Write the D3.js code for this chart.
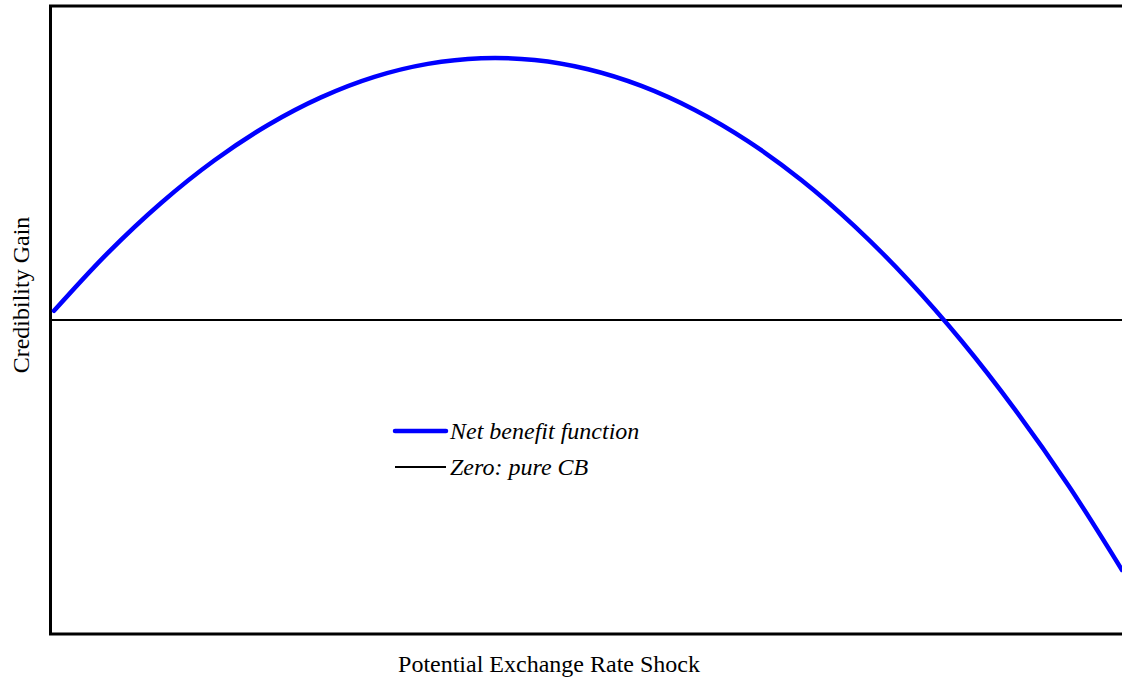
<!DOCTYPE html>
<html>
<head>
<meta charset="utf-8">
<script src="https://cdn.jsdelivr.net/npm/d3@7"></script>
<style>
  html, body { margin: 0; padding: 0; background: #fff; }
  svg { display: block; }
  text { font-family: "Liberation Serif", "Times New Roman", serif; fill: #000; }
</style>
</head>
<body>
<svg id="chart" width="1122" height="681"></svg>
<script>
// Data (arbitrary units; zero = pure currency board)
const shock = [0,1,2,3,4,5,6,7,8,9,10,11,12,13,14,15,16,17,18,19,20];
const netBenefit = [0.088,0.637,1.116,1.524,1.861,2.127,2.323,2.447,2.501,2.484,2.396,2.237,2.007,1.707,1.336,0.893,0.380,-0.203,-0.858,-1.583,-2.388];
const zeroLine = [0, 0];
const zeroShock = [-0.07, 20];
const seriesNames = ["Net benefit function", "Zero: pure CB"];
const xTitle = "Potential Exchange Rate Shock";
const yTitle = "Credibility Gain";

const svg = d3.select("#chart");
const frame = {left: 50.5, top: 6, right: 1124, bottom: 634};

const x = d3.scaleLinear().domain([0, 20]).range([54, 1122]);
const y = d3.scaleLinear().domain([-3, 3]).range([634, 6]);

// frame (right side extends beyond the view)
svg.append("path")
  .attr("d", `M${frame.right},${frame.top}H${frame.left}V${frame.bottom}H${frame.right}`)
  .attr("fill", "none").attr("stroke", "#000").attr("stroke-width", 3);

// zero line
svg.append("line")
  .attr("x1", x(zeroShock[0])).attr("x2", x(zeroShock[1]))
  .attr("y1", y(zeroLine[0])).attr("y2", y(zeroLine[1]))
  .attr("stroke", "#000").attr("stroke-width", 2);

// net benefit curve
const line = d3.line().x(d => x(d[0])).y(d => y(d[1])).curve(d3.curveCatmullRom);
svg.append("path")
  .datum(shock.map((s, i) => [s, netBenefit[i]]))
  .attr("d", line)
  .attr("fill", "none").attr("stroke", "#0000ff").attr("stroke-width", 4.5)
  .attr("stroke-linecap", "round");

// legend
const legend = svg.append("g").attr("transform", "translate(395,431)");
const legendStyles = [{c: "#0000ff", w: 4.5}, {c: "#000", w: 2}];
seriesNames.forEach((name, i) => {
  const g = legend.append("g").attr("transform", `translate(0,${i * 36})`);
  g.append("line").attr("x1", 0).attr("x2", 51).attr("y1", 0).attr("y2", 0)
    .attr("stroke", legendStyles[i].c).attr("stroke-width", legendStyles[i].w)
    .attr("stroke-linecap", i === 0 ? "round" : "butt");
  g.append("text").attr("x", 55).attr("y", 8)
    .attr("font-size", 24).attr("font-style", "italic").text(name);
});

// axis titles
svg.append("text").attr("x", 549).attr("y", 672)
  .attr("text-anchor", "middle").attr("font-size", 24).text(xTitle);
svg.append("text")
  .attr("transform", "translate(29,295) rotate(-90)")
  .attr("text-anchor", "middle").attr("font-size", 24).text(yTitle);
</script>
</body>
</html>
